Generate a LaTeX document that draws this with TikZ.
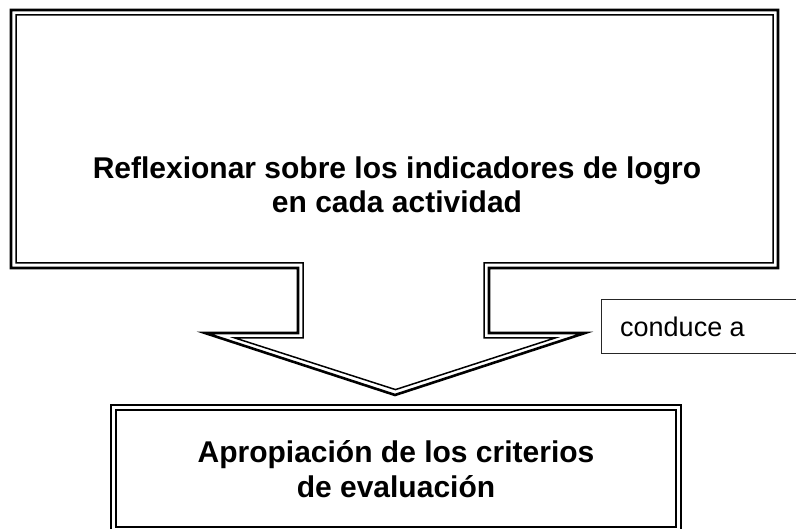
\documentclass[tikz,border=0pt]{standalone}
\usepackage{fontspec}
\setmainfont{Liberation Sans}
\begin{document}
\begin{tikzpicture}[x=1pt,y=-1pt,
  thickline/.style={line width=2.6pt,line join=miter,draw=black},
  thinline/.style={line width=1.5pt,line join=miter,draw=black},
  boldtext/.style={font=\fontsize{30}{34.5}\selectfont\bfseries,align=center,inner sep=0pt},
  smalltext/.style={font=\fontsize{27}{32}\selectfont,anchor=west,inner sep=0pt}]
\useasboundingbox (0,0) rectangle (796,529);
% top box with arrow (callout)
\draw[thickline] (11,10) -- (778,10) -- (778,268) -- (489,268) -- (489,333) -- (585,333)
  -- (395,395) -- (205,333) -- (298,333) -- (298,268) -- (11,268) -- cycle;
\draw[thinline] (16,15) -- (773,15) -- (773,263) -- (484,263) -- (484,338) -- (555,338)
  -- (395.5,389.6) -- (235,338) -- (303,338) -- (303,263) -- (16,263) -- cycle;
\node[boldtext] (top) at (397,185) {Reflexionar sobre los indicadores de logro\\en cada actividad};
% bottom box
\draw[thickline] (111,405) rectangle (681,532);
\draw[thinline] (116,410) rectangle (676,527);
\node[boldtext] (bottom) at (396,469) {Apropiación de los criterios\\de evaluación};
% label box
\draw[line width=1pt,draw=black!85] (601,300) rectangle (800,354);
\node[smalltext] (lab) at (620,327) {conduce a};
\end{tikzpicture}
\end{document}
